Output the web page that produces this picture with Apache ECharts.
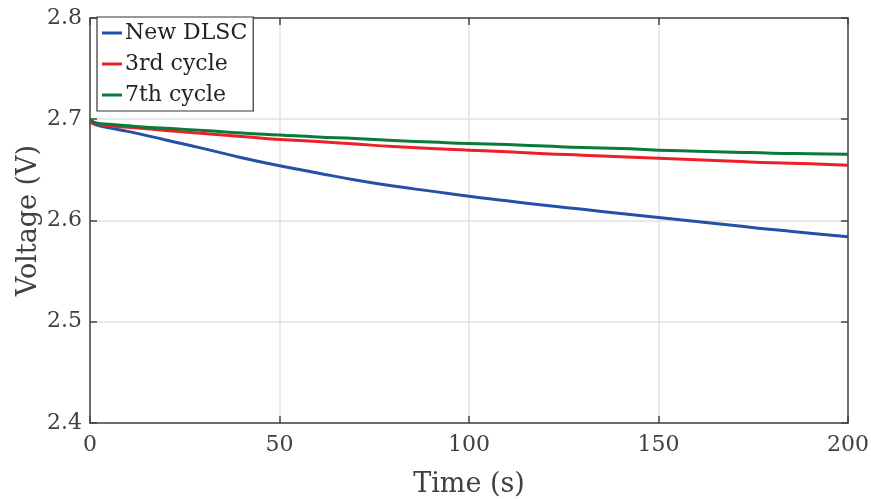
<!DOCTYPE html>
<html>
<head>
<meta charset="utf-8">
<script src="https://cdn.jsdelivr.net/npm/echarts@6/dist/echarts.min.js"></script>
<style>html,body{margin:0;padding:0;background:#fff}#c{width:871px;height:499px}</style>
</head>
<body>
<div id="c"></div>
<script>
const times = [0, 2, 5, 10, 20, 30, 40, 50, 60, 70, 80, 90, 100, 110, 120, 130, 140, 150, 160, 170, 180, 190, 200];
const newDLSC = [2.697, 2.694, 2.6915, 2.688, 2.6795, 2.671, 2.662, 2.654, 2.647, 2.640, 2.634, 2.629, 2.624, 2.6195, 2.615, 2.611, 2.607, 2.603, 2.599, 2.595, 2.591, 2.5875, 2.584];
const cycle3 = [2.698, 2.695, 2.6935, 2.692, 2.689, 2.686, 2.683, 2.680, 2.678, 2.6755, 2.673, 2.671, 2.6695, 2.668, 2.666, 2.6645, 2.663, 2.6615, 2.660, 2.6585, 2.657, 2.656, 2.6545];
const cycle7 = [2.700, 2.696, 2.695, 2.6935, 2.691, 2.689, 2.6865, 2.6845, 2.6825, 2.681, 2.679, 2.6775, 2.676, 2.675, 2.6735, 2.672, 2.671, 2.6695, 2.6685, 2.6675, 2.6665, 2.666, 2.6655];
const seriesNames = ['New DLSC', '3rd cycle', '7th cycle'];
const xTicks = [0, 50, 100, 150, 200];
const yTicks = [2.4, 2.5, 2.6, 2.7, 2.8];

const font = 'DejaVu Serif';
const txt = '#404040';
const axisCol = '#444444';
const colors = ['#2450a6', '#ee1f26', '#0a7a3a'];
const pair = arr => times.map((t, i) => [t, arr[i]]);

const chart = echarts.init(document.getElementById('c'));
const baseX = {
  type: 'value', min: xTicks[0], max: xTicks[xTicks.length - 1], interval: 50,
  axisLine: { show: true, onZero: false, lineStyle: { color: axisCol, width: 1.5 } },
  axisTick: { show: true, inside: true, length: 7, lineStyle: { color: axisCol, width: 1.5 } },
  splitLine: { show: false }
};
const baseY = {
  type: 'value', min: yTicks[0], max: yTicks[yTicks.length - 1], interval: 0.1,
  axisLine: { show: true, onZero: false, lineStyle: { color: axisCol, width: 1.5 } },
  axisTick: { show: true, inside: true, length: 7, lineStyle: { color: axisCol, width: 1.5 } },
  splitLine: { show: false }
};
chart.setOption({
  animation: false,
  backgroundColor: '#fff',
  grid: { left: 90, right: 23, top: 18, bottom: 76, containLabel: false, outerBoundsMode: 'none' },
  legend: {
    orient: 'vertical', left: 97, top: 17,
    data: seriesNames,
    backgroundColor: '#fff', borderColor: '#333', borderWidth: 1.2,
    padding: [5, 6, 5, 5], itemGap: 9, itemWidth: 20, itemHeight: 3,
    icon: 'rect',
    textStyle: { fontFamily: font, fontSize: 22, color: '#222', lineHeight: 22, padding: [0, 0, 0, -2] }
  },
  xAxis: [
    Object.assign({}, baseX, {
      position: 'bottom',
      name: 'Time (s)', nameLocation: 'middle', nameGap: 48, nameMoveOverlap: false,
      nameTextStyle: { fontFamily: font, fontSize: 27, color: txt },
      axisLabel: { fontFamily: font, fontSize: 22, color: txt, margin: 11, formatter: v => xTicks.includes(v) ? String(v) : '' },
      splitLine: { show: true, lineStyle: { color: '#e2e2e2', width: 1.5 } }
    }),
    Object.assign({}, baseX, { position: 'top', axisLabel: { show: false } })
  ],
  yAxis: [
    Object.assign({}, baseY, {
      position: 'left',
      name: 'Voltage (V)', nameLocation: 'middle', nameGap: 48, nameMoveOverlap: false,
      nameTextStyle: { fontFamily: font, fontSize: 27, color: txt },
      axisLabel: { fontFamily: font, fontSize: 22, color: txt, margin: 8, formatter: v => v.toFixed(1) },
      splitLine: { show: true, lineStyle: { color: '#e2e2e2', width: 1.5 } }
    }),
    Object.assign({}, baseY, { position: 'right', axisLabel: { show: false } })
  ],
  series: [
    { name: seriesNames[0], type: 'line', data: pair(newDLSC), showSymbol: false, smooth: true, lineStyle: { width: 3, color: colors[0] }, itemStyle: { color: colors[0] } },
    { name: seriesNames[1], type: 'line', data: pair(cycle3), showSymbol: false, smooth: true, lineStyle: { width: 3, color: colors[1] }, itemStyle: { color: colors[1] } },
    { name: seriesNames[2], type: 'line', data: pair(cycle7), showSymbol: false, smooth: true, lineStyle: { width: 3, color: colors[2] }, itemStyle: { color: colors[2] } }
  ]
});
</script>
</body>
</html>
